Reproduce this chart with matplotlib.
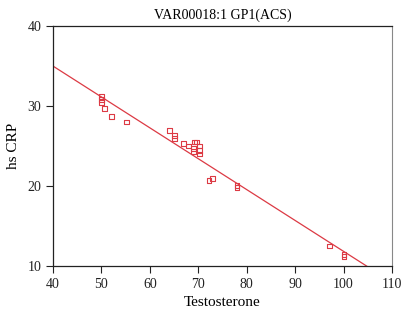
import numpy as np
import matplotlib
matplotlib.use("Agg")
import matplotlib.pyplot as plt

plt.rcParams['font.family'] = ['Liberation Serif', 'DejaVu Serif']

# Testosterone vs hs CRP
testosterone = [50.0, 50.0, 50.0, 50.6, 52.0, 55.1, 64.1, 65.1, 65.1, 67.0, 67.9,
                69.2, 69.7, 70.2, 69.0, 69.0, 70.2, 70.2, 72.2, 73.0, 78.0, 78.0,
                97.1, 100.1, 100.1]
hs_crp = [31.2, 30.8, 30.4, 29.7, 28.7, 28.0, 26.9, 26.3, 25.9, 25.3, 25.0,
          25.5, 25.5, 25.0, 24.7, 24.3, 24.4, 24.0, 20.7, 20.9, 20.1, 19.8,
          12.5, 11.2, 11.4]

# fitted line (intercept, slope)
fit_a = 50.43
fit_b = -0.386

red = '#dc3a44'

fig = plt.figure(figsize=(4.13, 3.16), dpi=100)
ax = fig.add_axes([53/413, 50/316, 339/413, 240/316])

ax.scatter(testosterone, hs_crp, marker='s', s=12, facecolors='none',
           edgecolors=red, linewidths=0.8, zorder=3)
xs = np.array([40, 110])
ax.plot(xs, fit_a + fit_b * xs, color=red, lw=0.9)

ax.set_xlim(40, 110)
ax.set_ylim(10, 40)
ax.set_xticks(range(40, 111, 10))
ax.set_yticks([10, 20, 30, 40])
ax.tick_params(direction='out', length=5, width=0.8, labelsize=10, colors='#222222')
ax.tick_params(top=False, right=False)
for s in ['left', 'bottom', 'top']:
    ax.spines[s].set_color('#222222')
    ax.spines[s].set_linewidth(0.9)
ax.spines['right'].set_color('#888888')

ax.set_xlabel('Testosterone', fontsize=11, labelpad=4)
ax.set_ylabel('hs CRP', fontsize=11, labelpad=5)
ax.set_title('VAR00018:1 GP1(ACS)', fontsize=10, pad=5)

fig.savefig('out.png', dpi=100)
